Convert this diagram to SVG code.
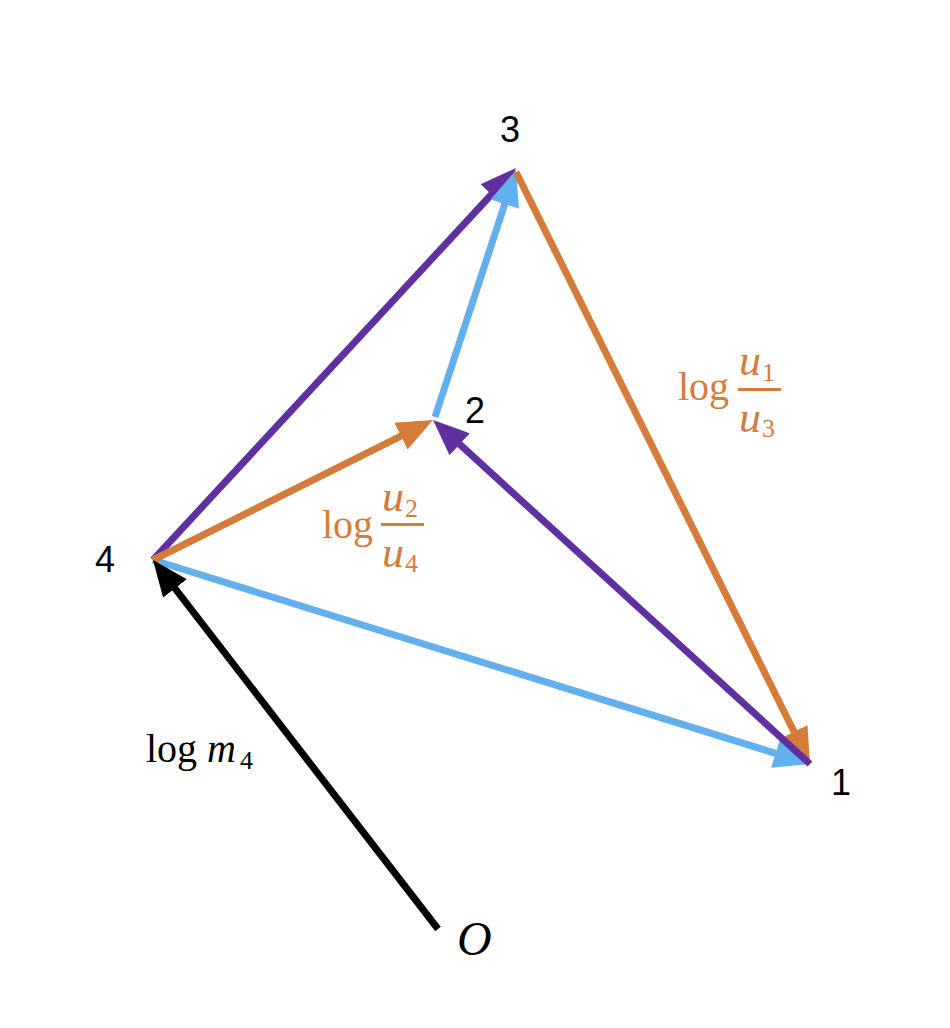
<svg xmlns="http://www.w3.org/2000/svg" width="950" height="1028" viewBox="0 0 950 1028">
<style>
.e{fill:none;stroke-width:7;stroke-linecap:butt}
.pu{stroke:#6130A0}.bl{stroke:#62B0EE}.or{stroke:#D67C3A}.bk{stroke:#000}
.lbl{font-family:"Liberation Sans",Arial,sans-serif;font-size:36px;fill:#000}
.m{font-family:"Liberation Serif","DejaVu Serif",serif;font-size:40px}
.mi{font-style:italic}
.u{font-size:44px}
.s{font-size:26px}
.big{font-size:48px}
.o{fill:#D67C3A}
</style>
<defs>
<marker id="aP" markerUnits="userSpaceOnUse" markerWidth="40" markerHeight="32" refX="6" refY="15" orient="auto"><path d="M0,0L36,15L0,30z" fill="#6130A0"/></marker>
<marker id="aB" markerUnits="userSpaceOnUse" markerWidth="40" markerHeight="32" refX="6" refY="15" orient="auto"><path d="M0,0L36,15L0,30z" fill="#62B0EE"/></marker>
<marker id="aO" markerUnits="userSpaceOnUse" markerWidth="40" markerHeight="32" refX="6" refY="15" orient="auto"><path d="M0,0L36,15L0,30z" fill="#D67C3A"/></marker>
<marker id="aK" markerUnits="userSpaceOnUse" markerWidth="40" markerHeight="32" refX="6" refY="15" orient="auto"><path d="M0,0L36,15L0,30z" fill="#000"/></marker>
</defs>
<g id="connectors">
<path class="e bl" d="M153,560L781.3,755.1" marker-end="url(#aB)"/>
<path class="e pu" d="M153,560L495.6,190" marker-end="url(#aP)"/>
<path class="e or" d="M153,560L406.2,433.4" marker-end="url(#aO)"/>
<path class="e bl" d="M435,417L506.6,198.5" marker-end="url(#aB)"/>
<path class="e or" d="M516,172L796.7,737.1" marker-end="url(#aO)"/>
<path class="e pu" d="M810,764L455.2,440.2" marker-end="url(#aP)"/>
<path class="e bk" d="M438,929L171.3,583.7" marker-end="url(#aK)"/>
</g>
<g id="node1"><text class="lbl" x="831" y="795">1</text></g>
<g id="node2"><text class="lbl" x="465" y="423">2</text></g>
<g id="node3"><text class="lbl" x="500" y="142">3</text></g>
<g id="node4"><text class="lbl" x="95" y="572">4</text></g>
<g id="nodeO"><text class="m mi big" x="457" y="955">O</text></g>
<g id="label13" class="o">
<text class="m" x="678" y="400">log</text>
<rect x="738" y="388" width="43" height="3"/>
<text class="m mi u" x="739" y="375">u</text><text class="m s" x="762" y="381">1</text>
<text class="m mi u" x="739" y="432">u</text><text class="m s" x="762" y="437">3</text>
</g>
<g id="label24" class="o">
<text class="m" x="322" y="538">log</text>
<rect x="381" y="523" width="43" height="3"/>
<text class="m mi u" x="382" y="511">u</text><text class="m s" x="405" y="517">2</text>
<text class="m mi u" x="382" y="567">u</text><text class="m s" x="405" y="572">4</text>
</g>
<g id="labelm4">
<text class="m" x="146" y="762">log</text>
<text class="m mi" x="207" y="762">m</text><text class="m s" x="240" y="769">4</text>
</g>
</svg>
